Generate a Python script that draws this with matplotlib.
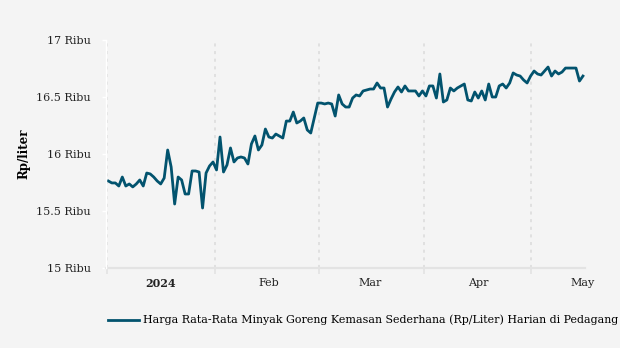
import matplotlib
matplotlib.use("Agg")
import matplotlib.pyplot as plt
import matplotlib.dates as mdates
import pandas as pd
import numpy as np

start_date = "2023-12-17"
harga = [
    15763, 15746, 15746, 15719, 15798, 15719, 15737, 15711, 15737, 15772,
    15719, 15833, 15825, 15798, 15763, 15737, 15789, 16035, 15886, 15561,
    15798, 15772, 15649, 15649, 15851, 15851, 15842, 15526, 15833, 15895,
    15930, 15860, 16149, 15842, 15904, 16053, 15930, 15965, 15974, 15965,
    15912, 16088, 16158, 16035, 16079, 16219, 16149, 16140, 16175, 16158,
    16140, 16289, 16289, 16368, 16272, 16289, 16316, 16211, 16184, 16316,
    16447, 16447, 16439, 16447, 16439, 16333, 16518, 16439, 16412, 16412,
    16491, 16518, 16509, 16553, 16561, 16570, 16570, 16623, 16579, 16579,
    16412, 16482, 16544, 16588, 16544, 16597, 16553, 16553, 16553, 16509,
    16553, 16509, 16597, 16597, 16491, 16702, 16456, 16474, 16579, 16553,
    16579, 16597, 16614, 16474, 16465, 16544, 16491, 16553, 16474, 16614,
    16500, 16500, 16597, 16614, 16579, 16623, 16711, 16693, 16684, 16649,
    16623, 16684, 16728, 16702, 16693, 16728, 16763, 16684, 16728, 16702,
    16719, 16754, 16754, 16754, 16754, 16640, 16684,
]
y_ticks = [15000, 15500, 16000, 16500, 17000]
y_labels = ["15 Ribu", "15.5 Ribu", "16 Ribu", "16.5 Ribu", "17 Ribu"]
month_starts = ["2024-01-01", "2024-02-01", "2024-03-01", "2024-04-01", "2024-05-01"]
month_labels = ["2024", "Feb", "Mar", "Apr", "May"]
legend_label = "Harga Rata-Rata Minyak Goreng Kemasan Sederhana (Rp/Liter) Harian di Pedagang"

dates = pd.date_range(start_date, periods=len(harga), freq="D")

plt.rcParams["font.family"] = ["DejaVu Serif"]
bg = "#f4f4f4"
line_color = "#02536e"

fig = plt.figure(figsize=(6.2, 3.48), dpi=100, facecolor=bg)
ax = fig.add_axes([0.171, 0.23, 0.773, 0.655], facecolor=bg)

ax.plot(dates, harga, color=line_color, linewidth=2.0, label=legend_label, zorder=3)

# garis bantu di tengah bulan, label di awal bulan
ms = pd.to_datetime(["2023-12-01"] + month_starts + ["2024-06-01"])
mids = [ms[i] + (ms[i + 1] - ms[i]) / 2 for i in range(len(ms) - 1)]
grid_pos = [m for m in mids if m <= pd.Timestamp("2024-04-30")]

ax.set_xlim(mdates.date2num(pd.Timestamp("2023-12-16 08:00")),
            mdates.date2num(pd.Timestamp("2024-05-01 16:00")))
ax.set_ylim(15000, 17000)

ax.set_xticks(mdates.date2num(pd.to_datetime(month_starts)))
ax.set_xticklabels(month_labels, fontsize=8)
ax.get_xticklabels()[0].set_fontweight("bold")
ax.set_xticks(mdates.date2num(pd.DatetimeIndex(grid_pos)), minor=True)
ax.tick_params(axis="x", which="major", length=0, pad=7, colors="#222222")
ax.tick_params(axis="x", which="minor", length=4, width=1.2, color="#e3e3e3")
ax.grid(axis="x", which="minor", linestyle=(0, (2, 3)), color="#dadada", linewidth=1.1)

ax.set_yticks(y_ticks)
ax.set_yticklabels(y_labels, fontsize=8)
ax.tick_params(axis="y", length=3, width=1, color="white", pad=8, labelcolor="#222222")

for s in ["top", "right"]:
    ax.spines[s].set_visible(False)
ax.spines["left"].set_color("white")
ax.spines["left"].set_linewidth(1.0)
ax.spines["left"].set_zorder(4)
ax.spines["bottom"].set_color("#e3e3e3")
ax.spines["bottom"].set_linewidth(1.6)

ax.set_ylabel("Rp/liter", fontsize=8.5, fontweight="bold", labelpad=4)

fig.legend(loc="center left", bbox_to_anchor=(0.158, 0.08), frameon=False,
           fontsize=7.93, handlelength=2.85, handletextpad=0.35)

fig.savefig("out.png", dpi=100, facecolor=bg)
